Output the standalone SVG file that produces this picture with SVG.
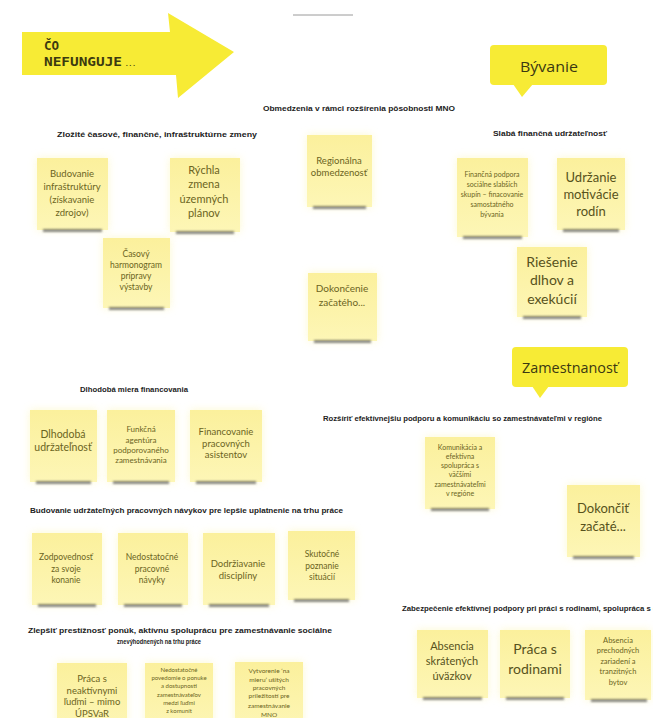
<svg xmlns="http://www.w3.org/2000/svg" width="653" height="718" viewBox="0 0 653 718">
<defs>
<linearGradient id="ng" x1="0" y1="0" x2="0" y2="1">
<stop offset="0" stop-color="#fbf09c"/>
<stop offset="1" stop-color="#fdf6b6"/>
</linearGradient>
<filter id="glow" x="-30%" y="-30%" width="160%" height="160%"><feGaussianBlur stdDeviation="4"/></filter>
<filter id="sh" x="-20%" y="-200%" width="140%" height="500%"><feGaussianBlur stdDeviation="1.2"/></filter>
<filter id="soft" x="-10%" y="-10%" width="120%" height="120%"><feGaussianBlur stdDeviation="0.6"/></filter>
</defs>
<style>
.halo{fill:#fbf3a0;opacity:.5;filter:url(#glow)}
.body{fill:url(#ng)}
.shadow{fill:#3a3a3a;opacity:.6;filter:url(#sh)}
.nt{font-family:Lato,"Open Sans",sans-serif;fill:#6b6422;text-anchor:middle}
.big{fill:#57521c}
.hd{font-family:"Liberation Sans",Arial,sans-serif;font-weight:bold;font-size:6.5px;fill:#222}
.call{fill:#f7eb34;filter:url(#soft)}
.ct{font-family:"Open Sans",sans-serif;font-size:15px;fill:#3b3812;text-anchor:middle}
.at{font-family:"DejaVu Sans Mono","Liberation Mono",monospace;font-weight:bold;fill:#3c3a10}
</style>
<rect width="653" height="718" fill="#ffffff"/>

<line x1="293" y1="15" x2="353" y2="15" stroke="#9a9a9a" stroke-width="1"/>

<g id="arrow">
<polygon class="call" points="22,32 170,32 168,13 234,52 178,98 176,75 22,75"/>
<text class="at" x="44" y="50" font-size="12.5">ČO</text>
<text class="at" x="44" y="66" font-size="11.5" textLength="78" lengthAdjust="spacingAndGlyphs">NEFUNGUJE</text>
<text class="at" x="125" y="66" font-size="6">...</text>
</g>

<g id="byvanie">
<rect class="call" x="490" y="45" width="117" height="40" rx="4"/>
<polygon class="call" points="513,84 533,84 522,97"/>
<text class="ct" x="549" y="72" textLength="58" lengthAdjust="spacingAndGlyphs">Bývanie</text>
</g>

<g id="zamestnanost">
<rect class="call" x="512" y="347" width="116" height="40" rx="4"/>
<polygon class="call" points="532,386 549,386 540,398"/>
<text class="ct" x="570" y="373" textLength="96" lengthAdjust="spacingAndGlyphs">Zamestnanosť</text>
</g>

<g id="headers">
<text class="hd" x="263" y="111" textLength="192" lengthAdjust="spacingAndGlyphs">Obmedzenia v rámci rozšírenia pôsobnosti MNO</text>
<text class="hd" x="57" y="137" textLength="200" lengthAdjust="spacingAndGlyphs">Zložité časové, finančné, infraštruktúrne zmeny</text>
<text class="hd" x="493" y="136" textLength="114" lengthAdjust="spacingAndGlyphs">Slabá finančná udržateľnosť</text>
<text class="hd" x="80" y="392" textLength="108" lengthAdjust="spacingAndGlyphs">Dlhodobá miera financovania</text>
<text class="hd" x="323" y="421" textLength="279" lengthAdjust="spacingAndGlyphs">Rozšíriť efektívnejšiu podporu a komunikáciu so zamestnávateľmi v regióne</text>
<text class="hd" x="30" y="513" textLength="313" lengthAdjust="spacingAndGlyphs">Budovanie udržateľných pracovných návykov pre lepšie uplatnenie na trhu práce</text>
<text class="hd" x="402" y="611" textLength="258" lengthAdjust="spacingAndGlyphs">Zabezpečenie efektívnej podpory pri práci s rodinami, spolupráca s dl</text>
<text class="hd" x="28" y="633" textLength="304" lengthAdjust="spacingAndGlyphs">Zlepšiť prestížnosť ponúk, aktívnu spoluprácu pre zamestnávanie sociálne</text>
<text class="hd" x="117" y="644" textLength="84" lengthAdjust="spacingAndGlyphs">znevýhodnených na trhu práce</text>
</g>

<g id="n1">
<rect class="halo" x="37" y="158" width="71" height="72"/><rect class="body" x="37" y="158" width="71" height="72"/><rect class="shadow" x="43" y="229" width="59" height="3"/>
<text class="nt" font-size="9.5"><tspan x="72" y="177">Budovanie</tspan><tspan x="72" y="190">infraštruktúry</tspan><tspan x="72" y="203">(získavanie</tspan><tspan x="72" y="216">zdrojov)</tspan></text>
</g>
<g id="n2">
<rect class="halo" x="170" y="158" width="70" height="74"/><rect class="body" x="170" y="158" width="70" height="74"/><rect class="shadow" x="176" y="231" width="58" height="3"/>
<text class="nt" font-size="11"><tspan x="204" y="174">Rýchla</tspan><tspan x="204" y="188">zmena</tspan><tspan x="204" y="203">územných</tspan><tspan x="204" y="217">plánov</tspan></text>
</g>
<g id="n3">
<rect class="halo" x="103" y="238" width="67" height="70"/><rect class="body" x="103" y="238" width="67" height="70"/><rect class="shadow" x="109" y="307" width="55" height="3"/>
<text class="nt" font-size="8.5"><tspan x="136" y="257">Časový</tspan><tspan x="136" y="268">harmonogram</tspan><tspan x="136" y="279">prípravy</tspan><tspan x="136" y="290">výstavby</tspan></text>
</g>
<g id="n4">
<rect class="halo" x="307" y="135" width="65" height="72"/><rect class="body" x="307" y="135" width="65" height="72"/><rect class="shadow" x="313" y="206" width="53" height="3"/>
<text class="nt" font-size="9.5"><tspan x="339" y="164">Regionálna</tspan><tspan x="339" y="176">obmedzenosť</tspan></text>
</g>
<g id="n5">
<rect class="halo" x="308" y="273" width="69" height="68"/><rect class="body" x="308" y="273" width="69" height="68"/><rect class="shadow" x="314" y="340" width="57" height="3"/>
<text class="nt" font-size="10"><tspan x="342" y="292">Dokončenie</tspan><tspan x="342" y="306">začatého...</tspan></text>
</g>
<g id="n6">
<rect class="halo" x="457" y="158" width="71" height="79"/><rect class="body" x="457" y="158" width="71" height="79"/><rect class="shadow" x="463" y="236" width="59" height="3"/>
<text class="nt" font-size="7"><tspan x="492" y="177">Finančná podpora</tspan><tspan x="492" y="187">sociálne slabších</tspan><tspan x="492" y="197">skupín – finacovanie</tspan><tspan x="492" y="207">samostatného</tspan><tspan x="492" y="217">bývania</tspan></text>
</g>
<g id="n7">
<rect class="halo" x="557" y="158" width="68" height="72"/><rect class="body" x="557" y="158" width="68" height="72"/><rect class="shadow" x="563" y="229" width="56" height="3"/>
<text class="nt big" font-size="13"><tspan x="591" y="182">Udržanie</tspan><tspan x="591" y="199">motivácie</tspan><tspan x="591" y="216">rodín</tspan></text>
</g>
<g id="n8">
<rect class="halo" x="517" y="247" width="70" height="70"/><rect class="body" x="517" y="247" width="70" height="70"/><rect class="shadow" x="523" y="316" width="58" height="3"/>
<text class="nt big" font-size="14"><tspan x="552" y="267">Riešenie</tspan><tspan x="552" y="285">dlhov a</tspan><tspan x="552" y="304">exekúcií</tspan></text>
</g>

<g id="n9">
<rect class="halo" x="30" y="410" width="67" height="72"/><rect class="body" x="30" y="410" width="67" height="72"/><rect class="shadow" x="36" y="481" width="55" height="3"/>
<text class="nt" font-size="10.5"><tspan x="63" y="438">Dlhodobá</tspan><tspan x="63" y="451">udržateľnosť</tspan></text>
</g>
<g id="n10">
<rect class="halo" x="107" y="410" width="68" height="72"/><rect class="body" x="107" y="410" width="68" height="72"/><rect class="shadow" x="113" y="481" width="56" height="3"/>
<text class="nt" font-size="8"><tspan x="141" y="432">Funkčná</tspan><tspan x="141" y="443">agentúra</tspan><tspan x="141" y="453">podporovaného</tspan><tspan x="141" y="463">zamestnávania</tspan></text>
</g>
<g id="n11">
<rect class="halo" x="190" y="410" width="72" height="72"/><rect class="body" x="190" y="410" width="72" height="72"/><rect class="shadow" x="196" y="481" width="60" height="3"/>
<text class="nt" font-size="9.5"><tspan x="226" y="435">Financovanie</tspan><tspan x="226" y="447">pracovných</tspan><tspan x="226" y="458">asistentov</tspan></text>
</g>

<g id="n12">
<rect class="halo" x="425" y="437" width="70" height="72"/><rect class="body" x="425" y="437" width="70" height="72"/><rect class="shadow" x="431" y="508" width="58" height="3"/>
<text class="nt" font-size="7"><tspan x="460" y="450">Komunikácia a</tspan><tspan x="460" y="459">efektívna</tspan><tspan x="460" y="468">spolupráca s</tspan><tspan x="460" y="477">väčšími</tspan><tspan x="460" y="487">zamestnávateľmi</tspan><tspan x="460" y="496">v regióne</tspan></text>
</g>
<g id="n13">
<rect class="halo" x="567" y="485" width="73" height="72"/><rect class="body" x="567" y="485" width="73" height="72"/><rect class="shadow" x="573" y="556" width="61" height="3"/>
<text class="nt big" font-size="13"><tspan x="603" y="513">Dokončiť</tspan><tspan x="603" y="531">začaté...</tspan></text>
</g>

<g id="n14">
<rect class="halo" x="32" y="533" width="70" height="72"/><rect class="body" x="32" y="533" width="70" height="72"/><rect class="shadow" x="38" y="604" width="58" height="3"/>
<text class="nt" font-size="8.5"><tspan x="66" y="560">Zodpovednosť</tspan><tspan x="66" y="572">za svoje</tspan><tspan x="66" y="583">konanie</tspan></text>
</g>
<g id="n15">
<rect class="halo" x="118" y="533" width="70" height="72"/><rect class="body" x="118" y="533" width="70" height="72"/><rect class="shadow" x="124" y="604" width="58" height="3"/>
<text class="nt" font-size="8.5"><tspan x="152" y="560">Nedostatočné</tspan><tspan x="152" y="572">pracovné</tspan><tspan x="152" y="583">návyky</tspan></text>
</g>
<g id="n16">
<rect class="halo" x="203" y="533" width="72" height="72"/><rect class="body" x="203" y="533" width="72" height="72"/><rect class="shadow" x="209" y="604" width="60" height="3"/>
<text class="nt" font-size="9.5"><tspan x="238" y="567">Dodržiavanie</tspan><tspan x="238" y="579">disciplíny</tspan></text>
</g>
<g id="n17">
<rect class="halo" x="288" y="531" width="67" height="69"/><rect class="body" x="288" y="531" width="67" height="69"/><rect class="shadow" x="294" y="599" width="55" height="3"/>
<text class="nt" font-size="8.5"><tspan x="322" y="557">Skutočné</tspan><tspan x="322" y="569">poznanie</tspan><tspan x="322" y="580">situácií</tspan></text>
</g>

<g id="n18">
<rect class="halo" x="417" y="630" width="71" height="68"/><rect class="body" x="417" y="630" width="71" height="68"/><rect class="shadow" x="423" y="697" width="59" height="3"/>
<text class="nt big" font-size="11"><tspan x="452" y="650">Absencia</tspan><tspan x="452" y="665">skrátených</tspan><tspan x="452" y="680">úväzkov</tspan></text>
</g>
<g id="n19">
<rect class="halo" x="500" y="630" width="70" height="68"/><rect class="body" x="500" y="630" width="70" height="68"/><rect class="shadow" x="506" y="697" width="58" height="3"/>
<text class="nt big" font-size="14"><tspan x="535" y="654">Práca s</tspan><tspan x="535" y="674">rodinami</tspan></text>
</g>
<g id="n20">
<rect class="halo" x="585" y="630" width="66" height="70"/><rect class="body" x="585" y="630" width="66" height="70"/><rect class="shadow" x="591" y="699" width="56" height="3"/>
<text class="nt" font-size="7.5"><tspan x="618" y="643">Absencia</tspan><tspan x="618" y="653">prechodných</tspan><tspan x="618" y="664">zariadení a</tspan><tspan x="618" y="674">tranzitných</tspan><tspan x="618" y="685">bytov</tspan></text>
</g>

<g id="n21">
<rect class="halo" x="57" y="663" width="70" height="70"/><rect class="body" x="57" y="663" width="70" height="70"/>
<text class="nt" font-size="9.5"><tspan x="92" y="682">Práca s</tspan><tspan x="92" y="694">neaktívnymi</tspan><tspan x="92" y="705">ľuďmi – mimo</tspan><tspan x="92" y="717">ÚPSVaR</tspan></text>
</g>
<g id="n22">
<rect class="halo" x="145" y="663" width="68" height="70"/><rect class="body" x="145" y="663" width="68" height="70"/>
<text class="nt" font-size="6"><tspan x="179" y="672">Nedostatočné</tspan><tspan x="179" y="680">povedomie o ponuke</tspan><tspan x="179" y="688">a dostupnosti</tspan><tspan x="179" y="697">zamestnávateľov</tspan><tspan x="179" y="705">medzi ľuďmi</tspan><tspan x="179" y="713">z komunít</tspan></text>
</g>
<g id="n23">
<rect class="halo" x="235" y="662" width="68" height="70"/><rect class="body" x="235" y="662" width="68" height="70"/>
<text class="nt" font-size="6.5"><tspan x="269" y="673">Vytvorenie ‘na</tspan><tspan x="269" y="682">mieru’ ušitých</tspan><tspan x="269" y="690">pracovných</tspan><tspan x="269" y="698">príležitostí pre</tspan><tspan x="269" y="708">zamestnávanie</tspan><tspan x="269" y="717">MNO</tspan></text>
</g>
</svg>
